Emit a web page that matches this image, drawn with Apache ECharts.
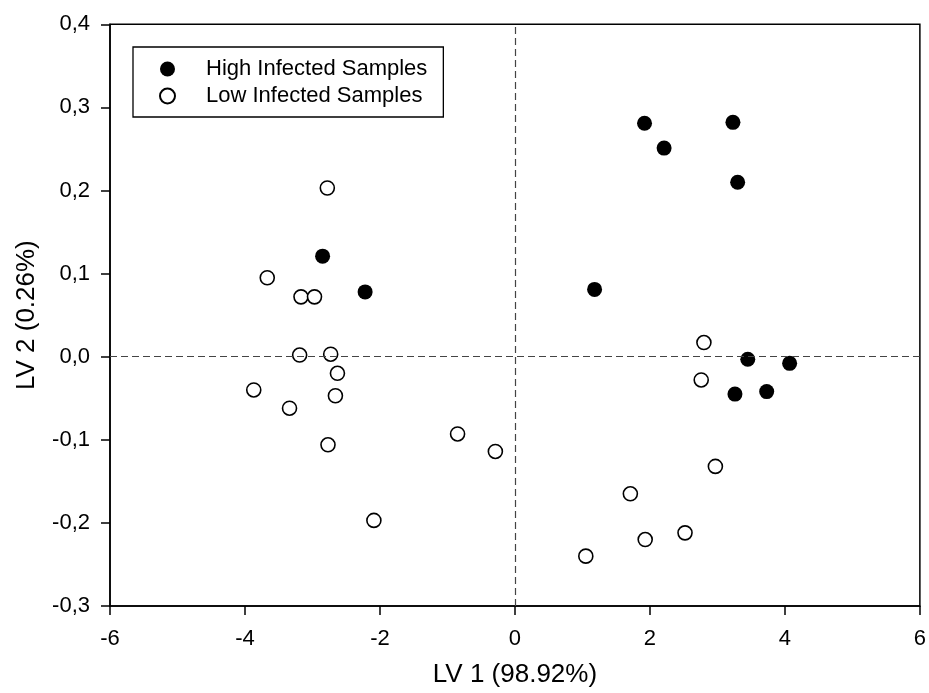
<!DOCTYPE html>
<html>
<head>
<meta charset="utf-8">
<script src="https://cdn.jsdelivr.net/npm/echarts@6/dist/echarts.min.js"></script>
<style>
html,body{margin:0;padding:0;background:#fff;}
#chart{width:929px;height:693px;}
</style>
</head>
<body>
<div id="chart"></div>
<script>
// Data
const seriesNames = ['High Infected Samples', 'Low Infected Samples'];
const highX = [-2.85, -2.22, 1.18, 1.92, 2.21, 3.23, 3.30, 3.45, 4.07, 3.26, 3.73];
const highY = [0.121, 0.078, 0.081, 0.281, 0.251, 0.282, 0.210, -0.003, -0.008, -0.045, -0.042];
const lowX = [-2.78, -3.67, -3.17, -2.97, -3.19, -2.73, -2.63, -3.87, -2.66, -3.34, -2.77, -2.09, -0.85, -0.29,
              2.80, 2.76, 2.97, 1.71, 2.52, 1.93, 1.05];
const lowY = [0.203, 0.095, 0.072, 0.072, 0.002, 0.003, -0.020, -0.040, -0.047, -0.062, -0.106, -0.197, -0.093, -0.114,
              0.017, -0.028, -0.132, -0.165, -0.212, -0.220, -0.240];
const xTitle = 'LV 1 (98.92%)';
const yTitle = 'LV 2 (0.26%)';

const FONT = '"Liberation Sans", Arial, sans-serif';
const zip = (xs, ys) => xs.map((x, i) => [x, ys[i]]);
const fmtY = v => (Math.round(v * 10) / 10).toFixed(1).replace('.', ',');

const chart = echarts.init(document.getElementById('chart'), null, {renderer: 'canvas'});
chart.setOption({
  animation: false,
  backgroundColor: '#fff',
  grid: {left: 110, right: 8, top: 24.3, bottom: 85.6, show: true, borderColor: '#000', borderWidth: 1.5, backgroundColor: 'transparent'},
  legend: {
    orient: 'vertical',
    left: 133, top: 47,
    padding: [11, 16, 10, 26],
    itemGap: 5,
    itemWidth: 15, itemHeight: 15,
    borderColor: '#000', borderWidth: 1.3,
    textStyle: {fontFamily: FONT, fontSize: 22, color: '#000', padding: [0, 0, 0, 26]},
    data: seriesNames
  },
  xAxis: {
    type: 'value', min: -6, max: 6, interval: 2,
    name: xTitle, nameLocation: 'middle', nameGap: 56,
    nameTextStyle: {fontFamily: FONT, fontSize: 26, color: '#000'},
    axisLine: {show: true, onZero: false, lineStyle: {color: '#000', width: 1.5}},
    axisTick: {show: true, inside: false, length: 9, lineStyle: {color: '#000', width: 1.5}},
    axisLabel: {fontFamily: FONT, fontSize: 22, color: '#000', margin: 22, formatter: v => String(v)},
    splitLine: {show: false}
  },
  yAxis: {
    type: 'value', min: -0.3, max: 0.4, interval: 0.1,
    name: yTitle, nameLocation: 'middle', nameGap: 70, nameRotate: 90,
    nameTextStyle: {fontFamily: FONT, fontSize: 26, color: '#000'},
    axisLine: {show: true, onZero: false, lineStyle: {color: '#000', width: 1.5}},
    axisTick: {show: true, inside: false, length: 9, lineStyle: {color: '#000', width: 1.5}},
    axisLabel: {fontFamily: FONT, fontSize: 22, color: '#000', margin: 20, formatter: fmtY},
    splitLine: {show: false}
  },
  series: [
    {
      name: seriesNames[0], type: 'scatter', symbol: 'circle', symbolSize: 15,
      itemStyle: {color: '#000', borderColor: '#000', borderWidth: 0, opacity: 1},
      data: zip(highX, highY),
      z: 3,
      markLine: {
        silent: true, symbol: 'none', animation: false,
        label: {show: false},
        lineStyle: {color: '#444', width: 1.2, type: [7, 4]},
        data: [{xAxis: 0}, {yAxis: 0}]
      }
    },
    {
      name: seriesNames[1], type: 'scatter', symbol: 'circle', symbolSize: 14,
      itemStyle: {color: '#fff', borderColor: '#000', borderWidth: 1.6, opacity: 1},
      data: zip(lowX, lowY),
      z: 3
    }
  ]
});
</script>
</body>
</html>
